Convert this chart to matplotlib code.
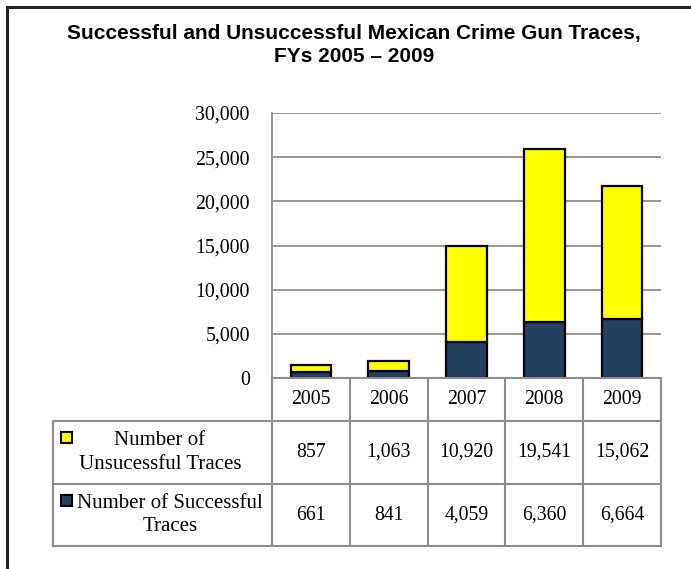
import matplotlib
import matplotlib.pyplot as plt
import matplotlib.ticker
import numpy as np
from matplotlib.lines import Line2D
from matplotlib.patches import Rectangle

matplotlib.use("Agg")

years = ["2005", "2006", "2007", "2008", "2009"]
unsuccessful = [857, 1063, 10920, 19541, 15062]
successful = [661, 841, 4059, 6360, 6664]
row_labels = ["Number of\nUnsucessful Traces", "Number of Successful\nTraces"]
title = "Successful and Unsuccessful Mexican Crime Gun Traces,\nFYs 2005 \u2013 2009"

W, H = 691, 569
YELLOW = "#ffff00"
NAVY = "#243f60"
GRID = "#8c8c8c"
SERIF = ["Liberation Serif", "DejaVu Serif"]


def fx(x):
    return x / W


def fy(y):
    return 1 - y / H


fig = plt.figure(figsize=(W / 100, H / 100), dpi=100)

# plot area in pixel terms
x0, x1, ytop, ybot = 272, 661, 113, 378
ax = fig.add_axes([fx(x0), fy(ybot), fx(x1) - fx(x0), fy(ytop) - fy(ybot)])

x = np.arange(len(years))
ax.bar(x, successful, 0.52, color=NAVY, edgecolor="black", linewidth=1.6, zorder=3)
ax.bar(x, unsuccessful, 0.52, bottom=successful, color=YELLOW,
       edgecolor="black", linewidth=1.6, zorder=3)

ax.set_xlim(-0.5, len(years) - 0.5)
ax.set_ylim(0, 30000)
ax.set_yticks(np.arange(0, 30001, 5000))
ax.yaxis.set_major_formatter(matplotlib.ticker.StrMethodFormatter("{x:,.0f}"))
ax.set_xticks([])
ax.tick_params(axis="y", length=0, pad=16)
for lbl in ax.get_yticklabels():
    lbl.set_fontfamily(SERIF)
    lbl.set_fontsize(14.3)
ax.grid(axis="y", color=GRID, linewidth=1.3, zorder=0)
for side in ["top", "right", "bottom"]:
    ax.spines[side].set_visible(False)
ax.spines["left"].set_color(GRID)
ax.spines["left"].set_linewidth(1.3)

# data table under the plot
col_edges = np.linspace(x0, x1, len(years) + 1)
row_edges = [378, 421, 484, 546]
lab_left = 53


def hline(xa, xb, y):
    fig.add_artist(Line2D([fx(xa), fx(xb)], [fy(y), fy(y)], color=GRID, linewidth=1.5))


def vline(xv, ya, yb):
    fig.add_artist(Line2D([fx(xv), fx(xv)], [fy(ya), fy(yb)], color=GRID, linewidth=1.5))


for y in row_edges[:1]:
    hline(x0, x1, y)
for y in row_edges[1:]:
    hline(lab_left, x1, y)
for xe in col_edges:
    vline(xe, row_edges[0], row_edges[-1])
vline(lab_left, row_edges[1], row_edges[-1])

cx = (col_edges[:-1] + col_edges[1:]) / 2
for c, yr in zip(cx, years):
    fig.text(fx(c), fy((row_edges[0] + row_edges[1]) / 2), yr, ha="center", va="center",
             fontfamily=SERIF, fontsize=14.2)

for r, vals in enumerate([unsuccessful, successful]):
    ym = (row_edges[r + 1] + row_edges[r + 2]) / 2
    for c, v in zip(cx, vals):
        fig.text(fx(c), fy(ym), f"{v:,}", ha="center", va="center",
                 fontfamily=SERIF, fontsize=14.2)

# row labels with legend keys
key_x = [61, 61]
text_x = [160, 170]
key_col = [YELLOW, NAVY]
for r in range(2):
    top = row_edges[r + 1]
    ym = (row_edges[r + 1] + row_edges[r + 2]) / 2
    fig.add_artist(Rectangle((fx(key_x[r]), fy(top + 22)), fx(11), 11 / H,
                             facecolor=key_col[r], edgecolor="black", linewidth=1.5,
                             transform=fig.transFigure))
    fig.text(fx(text_x[r]), fy(ym), row_labels[r], ha="center", va="center",
             fontfamily=SERIF, fontsize=15, linespacing=1.3)

fig.text(fx(354), fy(45), title, ha="center", va="center",
         fontfamily=["Liberation Sans", "DejaVu Sans"], fontsize=15, fontweight="bold",
         linespacing=1.3)

# outer frame (top and left edges only, rest is cropped off)
fig.add_artist(Line2D([fx(7), 1], [fy(7), fy(7)], color="#222222", linewidth=2.2))
fig.add_artist(Line2D([fx(7), fx(7)], [fy(7), 0], color="#222222", linewidth=2.2))

fig.savefig("out.png", dpi=100)
